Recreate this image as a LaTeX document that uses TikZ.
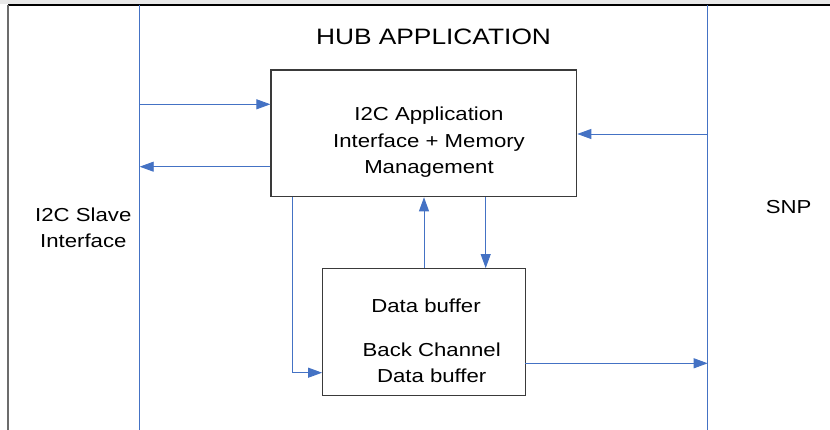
\documentclass[tikz,border=0pt]{standalone}
\usepackage{fontspec}
\setmainfont{Liberation Sans}[FakeStretch=1.18]
\usetikzlibrary{arrows.meta}
\definecolor{linkblue}{HTML}{4472C4}
\definecolor{boxedge}{HTML}{3A3A3A}
\tikzset{
  blk/.style={draw=boxedge, line width=1.2pt, inner sep=0pt, fill=white},
  lbl/.style={inner sep=0pt, align=center, font=\fontsize{18.8}{26.5}\selectfont},
  lane/.style={draw=linkblue, line width=0.9pt},
  flow/.style={draw=linkblue, line width=0.9pt,
    -{Triangle[length=14pt, width=10pt]}, color=linkblue},
}
\begin{document}
\begin{tikzpicture}[x=1pt, y=-1pt]
\useasboundingbox (0,0) rectangle (830,430);
% frame
\fill[gray!18] (0,0) rectangle (830,4.3);
\draw[black, line width=1.3pt] (8,5) -- (830,5);
\draw[gray!85!black, line width=1.8pt] (8,5) -- (8,430);

% lane boundaries
\coordinate (laneLtop) at (139.7,5);
\coordinate (laneLbot) at (139.7,430);
\coordinate (laneRtop) at (707.7,5);
\coordinate (laneRbot) at (707.7,430);
\draw[lane] (laneLtop) -- (laneLbot);
\draw[lane] (laneRtop) -- (laneRbot);

% blocks
\node[blk, minimum width=305.7pt, minimum height=126.7pt] (app) at (423.85,133.35) {};
\node[blk, minimum width=202.6pt, minimum height=126.6pt] (buf) at (424.0,332.0) {};

% labels
\node[lbl, anchor=base, font=\fontsize{22.3}{26}\selectfont] (title) at (433.5,44.3) {HUB APPLICATION};
\node[lbl] (apptext) at (429,142.5) {I2C Application\\Interface + Memory\\Management};
\node[lbl, anchor=base] (buftext) at (426,312.7) {Data buffer};
\node[lbl] (bctext) at (431.7,362.6) {Back Channel\\Data buffer};
\node[lbl] (slave) at (83.3,228) {I2C Slave\\Interface};
\node[lbl, anchor=base] (snp) at (788.7,214) {SNP};

% connectors
\coordinate (inL) at (139.7,104.3);
\coordinate (outL) at (139.7,166.7);
\coordinate (inR) at (707.7,134);
\coordinate (upX) at (424,0);
\coordinate (downX) at (485.7,0);
\coordinate (bendTop) at (292.7,196.7);
\coordinate (bend) at (292.7,372.7);
\coordinate (outB) at (525.3,363.3);

\draw[flow] (inL) -- (inL -| app.west);
\draw[flow] (outL -| app.west) -- (outL);
\draw[flow] (inR) -- (inR -| app.east);
\draw[flow] (upX |- buf.north) -- (upX |- app.south);
\draw[flow] (downX |- app.south) -- (downX |- buf.north);
\draw[flow] (bendTop) -- (bend) -- (bend -| buf.west);
\draw[flow] (outB) -- (outB -| laneRtop);
\end{tikzpicture}
\end{document}
